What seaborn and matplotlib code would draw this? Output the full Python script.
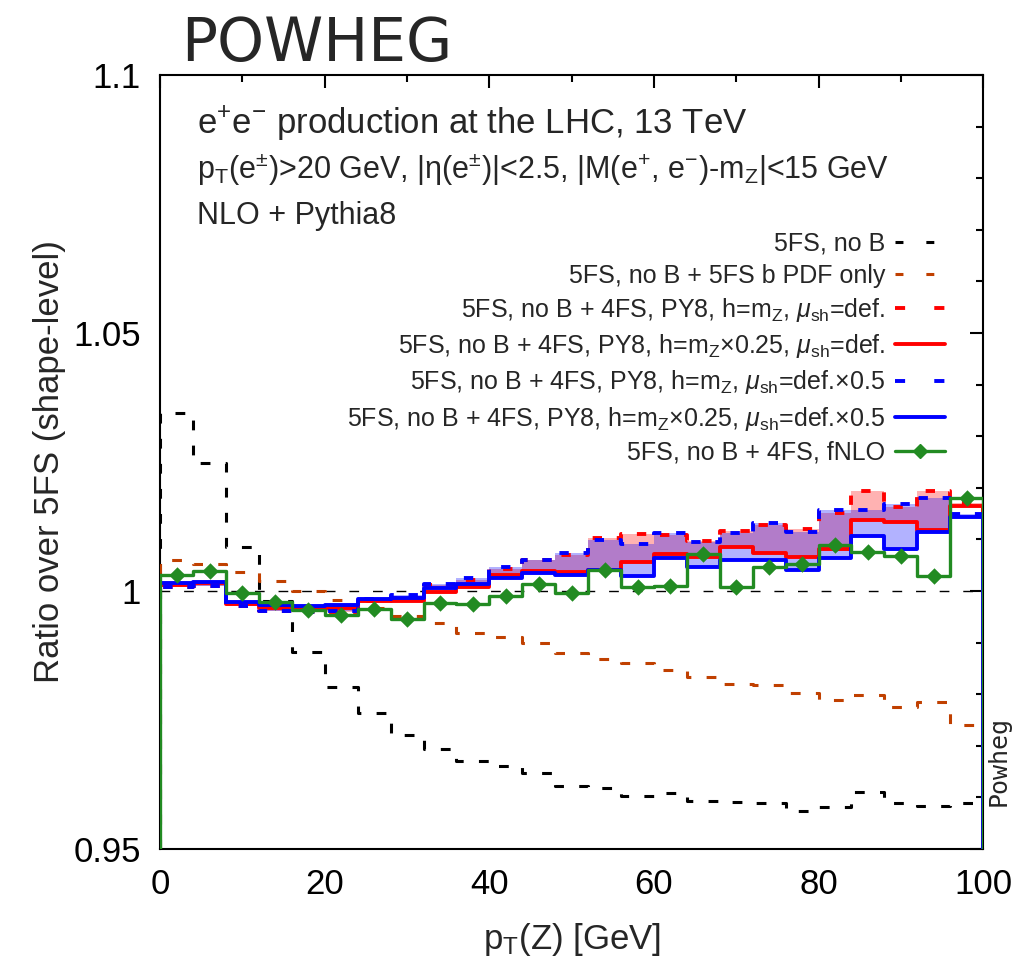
import numpy as np
import pandas as pd
import matplotlib
matplotlib.use("Agg")
import matplotlib.pyplot as plt
import seaborn as sns
from matplotlib.lines import Line2D
from matplotlib.ticker import MultipleLocator, FixedLocator

# bin edges of pT(Z) [GeV]
pt_edges = [0, 4, 8, 12, 16, 20, 24, 28, 32, 36, 40, 44, 48, 52,
            56, 60, 64, 68, 72, 76, 80, 84, 88, 92, 96, 100]

# ratio over 5FS, one value per bin
no_b = [1.0345, 1.0249, 1.0085, 0.9980, 0.9882, 0.9813, 0.9764, 0.9721, 0.9694,
        0.9671, 0.9660, 0.9648, 0.9623, 0.9618, 0.9603, 0.9608, 0.9593, 0.9592,
        0.9590, 0.9574, 0.9581, 0.9610, 0.9590, 0.9583, 0.9590]
no_b_bpdf = [1.0060, 1.0052, 1.0037, 1.0020, 1.0000, 0.9983, 0.9968, 0.9952, 0.9937,
             0.9919, 0.9910, 0.9900, 0.9879, 0.9869, 0.9861, 0.9847, 0.9834, 0.9819,
             0.9817, 0.9802, 0.9789, 0.9798, 0.9775, 0.9784, 0.9740]
py8_hmz = [1.0008, 1.0010, 0.9970, 0.9962, 0.9960, 0.9960, 0.9981, 0.9986, 1.0012,
           1.0022, 1.0043, 1.0061, 1.0070, 1.0102, 1.0110, 1.0109, 1.0096, 1.0116,
           1.0128, 1.0120, 1.0152, 1.0194, 1.0163, 1.0194, 1.0170]
py8_h025 = [1.0012, 1.0015, 0.9975, 0.9968, 0.9966, 0.9968, 0.9981, 0.9981, 0.9999,
            1.0008, 1.0031, 1.0039, 1.0037, 1.0041, 1.0056, 1.0072, 1.0065, 1.0086,
            1.0073, 1.0065, 1.0081, 1.0138, 1.0134, 1.0118, 1.0165]
py8_hmz_sh05 = [1.0008, 1.0010, 0.9970, 0.9962, 0.9960, 0.9962, 0.9984, 0.9992, 1.0014,
                1.0025, 1.0046, 1.0061, 1.0073, 1.0098, 1.0091, 1.0113, 1.0094, 1.0112,
                1.0132, 1.0115, 1.0157, 1.0156, 1.0168, 1.0180, 1.0149]
py8_h025_sh05 = [1.0015, 1.0018, 0.9979, 0.9973, 0.9970, 0.9973, 0.9984, 0.9986, 1.0005,
                 1.0014, 1.0025, 1.0034, 1.0031, 1.0041, 1.0029, 1.0063, 1.0047, 1.0060,
                 1.0061, 1.0041, 1.0063, 1.0107, 1.0082, 1.0114, 1.0144]
fnlo = [1.0031, 1.0038, 0.9996, 0.9979, 0.9964, 0.9953, 0.9966, 0.9946, 0.9977,
        0.9975, 0.9990, 1.0013, 0.9997, 1.0041, 1.0008, 1.0009, 1.0072, 1.0007,
        1.0047, 1.0052, 1.0089, 1.0076, 1.0068, 1.0029, 1.0180]

labels = [
    "5FS, no B",
    "5FS, no B + 5FS b PDF only",
    r"5FS, no B + 4FS, PY8, h=m$_\mathrm{Z}$, $\mu_\mathrm{sh}$=def.",
    r"5FS, no B + 4FS, PY8, h=m$_\mathrm{Z}$×0.25, $\mu_\mathrm{sh}$=def.",
    r"5FS, no B + 4FS, PY8, h=m$_\mathrm{Z}$, $\mu_\mathrm{sh}$=def.×0.5",
    r"5FS, no B + 4FS, PY8, h=m$_\mathrm{Z}$×0.25, $\mu_\mathrm{sh}$=def.×0.5",
    "5FS, no B + 4FS, fNLO",
]

y_ticks = [0.95, 1.0, 1.05, 1.1]
y_tick_labels = ["0.95", "1", "1.05", "1.1"]

YMIN, YMAX = 0.95, 1.1

sns.set_theme(style="white")
plt.rcParams["font.family"] = ["Liberation Sans", "DejaVu Sans"]
plt.rcParams["mathtext.fontset"] = "custom"
plt.rcParams["mathtext.rm"] = "Liberation Sans"
plt.rcParams["mathtext.it"] = "Liberation Sans:italic"
plt.rcParams["mathtext.bf"] = "Liberation Sans:bold"
plt.rcParams["mathtext.sf"] = "Liberation Sans"

GREEN = "#228b22"
ORANGE = "#c04000"


def step_xy(vals):
    # histogram outline that drops to the bottom at both ends
    x = [pt_edges[0]] + pt_edges[:-1] + [pt_edges[-1], pt_edges[-1]]
    y = [YMIN] + list(vals) + [vals[-1], YMIN]
    return x, y


fig = plt.figure(figsize=(10.2, 9.58), dpi=100)
ax = fig.add_axes([0.157, 0.1138, 0.8069, 0.8079])

# bands between the two h choices
ax.fill_between(pt_edges, py8_hmz + [py8_hmz[-1]], py8_h025 + [py8_h025[-1]],
                step="post", color="red", alpha=0.3, lw=0, zorder=1)
ax.fill_between(pt_edges, py8_hmz_sh05 + [py8_hmz_sh05[-1]],
                py8_h025_sh05 + [py8_h025_sh05[-1]],
                step="post", color="blue", alpha=0.3, lw=0, zorder=1)

ax.axhline(1.0, color="black", lw=1.0, linestyle=(0, (7, 10)), zorder=2)

styles = [
    (no_b, "black", 2.2, (0, (3.2, 5))),
    (no_b_bpdf, ORANGE, 2.2, (0, (3.2, 5))),
    (py8_hmz, "red", 2.8, (0, (2.4, 3.8))),
    (py8_h025, "red", 2.8, "-"),
    (py8_hmz_sh05, "blue", 2.8, (0, (2.4, 3.8))),
    (py8_h025_sh05, "blue", 2.8, "-"),
    (fnlo, GREEN, 2.4, "-"),
]

handles = []
for i, (vals, col, lw, ls) in enumerate(styles):
    x, y = step_xy(vals)
    sns.lineplot(x=x, y=y, ax=ax, color=col, lw=lw, linestyle=ls,
                 estimator=None, sort=False, drawstyle="steps-post",
                 zorder=3 + i)
    # legend samples show two dashes, like the original
    hls = (0, (2.6, 7.5)) if ls != "-" else "-"
    handles.append(Line2D([], [], color=col, lw=lw, linestyle=hls,
                          marker="D" if vals is fnlo else None, ms=7.5))

centers = [(a + b) / 2 for a, b in zip(pt_edges[:-1], pt_edges[1:])]
sns.scatterplot(x=centers, y=fnlo, ax=ax, marker="D", s=70, color=GREEN,
                edgecolor=GREEN, linewidth=0, zorder=12)

ax.set_xlim(pt_edges[0], pt_edges[-1])
ax.set_ylim(YMIN, YMAX)
ax.xaxis.set_major_locator(MultipleLocator(20))
ax.xaxis.set_minor_locator(MultipleLocator(10))
ax.yaxis.set_major_locator(FixedLocator(y_ticks))
ax.yaxis.set_minor_locator(MultipleLocator(0.01))
ax.set_yticklabels(y_tick_labels)

ax.tick_params(which="both", direction="in", top=True, right=True,
               width=1.5, colors="black", labelsize=25, pad=14)
ax.tick_params(which="major", length=9.5)
ax.tick_params(which="minor", length=5)
for sp in ax.spines.values():
    sp.set_linewidth(1.5)
    sp.set_color("black")

ax.set_xlabel(r"p$_\mathrm{T}$(Z) [GeV]", fontsize=25)
ax.xaxis.set_label_coords(0.5, -0.093)
ax.set_ylabel("Ratio over 5FS (shape-level)", fontsize=25)
ax.yaxis.set_label_coords(-0.114, 0.5)

ax.text(0.045, 0.924, r"e$^{+}$e$^{-}$ production at the LHC, 13 TeV",
        transform=ax.transAxes, fontsize=25, va="baseline")
ax.text(0.045, 0.866,
        r"p$_\mathrm{T}$(e$^{\pm}$)>20 GeV, |η(e$^{\pm}$)|<2.5, "
        r"|M(e$^{+}$, e$^{-}$)-m$_\mathrm{Z}$|<15 GeV",
        transform=ax.transAxes, fontsize=22, va="baseline")
ax.text(0.045, 0.808, "NLO + Pythia8", transform=ax.transAxes,
        fontsize=22, va="baseline")

ax.legend(handles, labels, loc="upper right", bbox_to_anchor=(0.954, 0.798),
          frameon=False, markerfirst=False, fontsize=18, handlelength=2.0,
          handletextpad=0.4, labelspacing=0.33, borderaxespad=0, borderpad=0)

ax.text(1.019, 0.114, "Powheg", rotation=90, transform=ax.transAxes,
        family="DejaVu Sans Mono", fontsize=18, ha="center", va="center")

fig.text(0.178, 0.936, "POWHEG", fontsize=43, family="DejaVu Sans",
         va="baseline")

fig.savefig("out.png", dpi=100)
